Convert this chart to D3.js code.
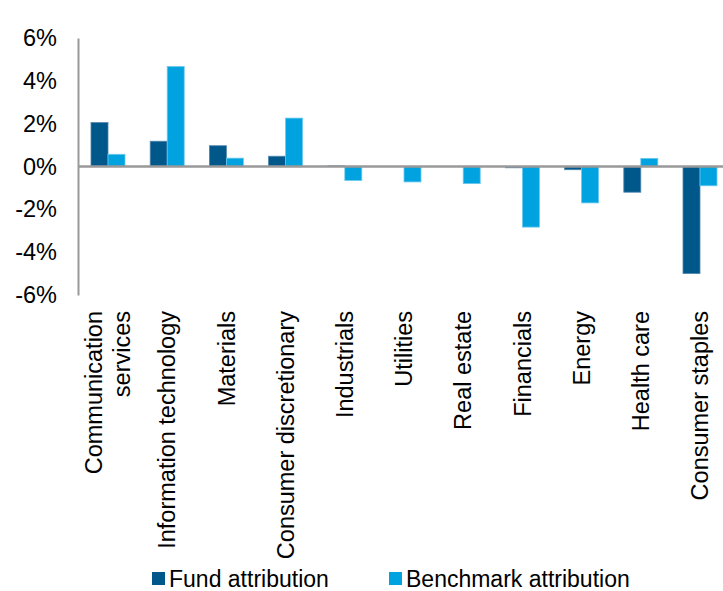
<!DOCTYPE html>
<html>
<head>
<meta charset="utf-8">
<script src="https://cdn.jsdelivr.net/npm/d3@7"></script>
<style>
  body { margin: 0; background: #fff; }
  text { font-family: "Liberation Sans", Arial, sans-serif; fill: #000; }
</style>
</head>
<body>
<div id="chart"></div>
<script>
var sectors = ["Communication services", "Information technology", "Materials", "Consumer discretionary",
    "Industrials", "Utilities", "Real estate", "Financials", "Energy", "Health care", "Consumer staples"];
var sectorLines = [["Communication", "services"], ["Information technology"], ["Materials"], ["Consumer discretionary"],
    ["Industrials"], ["Utilities"], ["Real estate"], ["Financials"], ["Energy"], ["Health care"], ["Consumer staples"]];
var fundAttr = [2.05, 1.18, 0.97, 0.48, 0.03, 0, 0, -0.06, -0.15, -1.2, -5.0];
var benchAttr = [0.57, 4.67, 0.39, 2.26, -0.65, -0.72, -0.8, -2.83, -1.7, 0.38, -0.9];
var seriesNames = ["Fund attribution", "Benchmark attribution"];
var seriesColors = ["#00578A", "#00A2DF"];
var yTicks = [-6, -4, -2, 0, 2, 4, 6];

var outerWidth = 723, outerHeight = 591;

var svg = d3.select("#chart").append("svg")
    .attr("width", outerWidth)
    .attr("height", outerHeight);

var x = d3.scaleBand()
    .domain(sectors)
    .range([78.4, 729.6]);

var x1 = d3.scaleBand()
    .domain(seriesNames)
    .range([12.6, 46.6]);

var y = d3.scaleLinear()
    .domain([-6, 6])
    .range([295, 38]);

var data = sectors.map(function (s, i) {
    return { sector: s, values: [fundAttr[i], benchAttr[i]] };
});

// bars
var groups = svg.selectAll(".grp")
    .data(data)
    .enter().append("g")
    .attr("class", "grp")
    .attr("transform", function (d) { return "translate(" + x(d.sector) + ",0)"; });

groups.selectAll("rect")
    .data(function (d) { return d.values.map(function (v, j) { return { v: v, j: j }; }); })
    .enter().append("rect")
    .attr("x", function (d) { return x1(seriesNames[d.j]); })
    .attr("width", x1.bandwidth())
    .attr("y", function (d) { return y(Math.max(0, d.v)); })
    .attr("height", function (d) { return Math.abs(y(d.v) - y(0)); })
    .attr("fill", function (d) { return seriesColors[d.j]; })
    .attr("stroke", function (d) { return d.j === 0 ? "#4f86ad" : "#6cc8ee"; })
    .attr("stroke-width", 0.8);

// y axis
var yAxis = svg.append("g")
    .attr("transform", "translate(78,0)")
    .call(d3.axisLeft(y).tickValues(yTicks).tickSize(0).tickPadding(21)
        .tickFormat(function (d) { return d + "%"; }));
yAxis.select(".domain").attr("stroke", "#999").attr("stroke-width", 2);
yAxis.selectAll("text")
    .style("font-size", "23.5px")
    .style("font-family", "'Liberation Sans', Arial, sans-serif")
    .attr("fill", "#000");

// zero line
svg.append("line")
    .attr("x1", 78).attr("x2", outerWidth)
    .attr("y1", y(0)).attr("y2", y(0))
    .attr("stroke", "#999")
    .attr("stroke-width", 2.5);

// category labels
var labels = svg.selectAll(".cat")
    .data(sectors)
    .enter().append("text")
    .attr("class", "cat")
    .attr("text-anchor", "end")
    .style("font-size", "23.5px")
    .attr("transform", function (d) {
        return "translate(" + (x(d) + x.bandwidth() / 2) + ",311) rotate(-90)";
    });

labels.each(function (d, i) {
    var lines = sectorLines[i];
    var t = d3.select(this);
    lines.forEach(function (ln, k) {
        t.append("tspan")
            .attr("x", 0)
            .attr("y", (k - (lines.length - 1) / 2) * 28)
            .attr("dy", "0.35em")
            .text(ln);
    });
});

// legend
var legend = svg.append("g").attr("class", "legend");
var legendX = [152, 389];
seriesNames.forEach(function (name, i) {
    legend.append("rect")
        .attr("x", legendX[i]).attr("y", 572)
        .attr("width", 13).attr("height", 13)
        .attr("fill", seriesColors[i]);
    legend.append("text")
        .attr("x", legendX[i] + 17).attr("y", 579)
        .attr("dy", "0.35em")
        .style("font-size", "23px")
        .text(name);
});
</script>
</body>
</html>
